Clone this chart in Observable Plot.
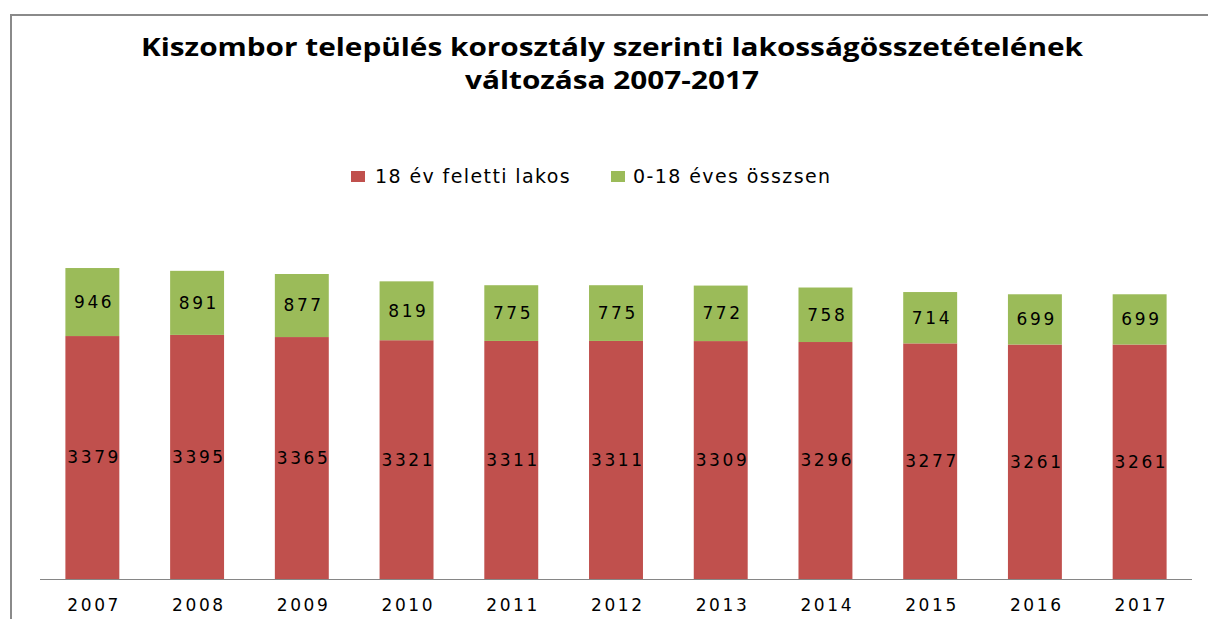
<!DOCTYPE html>
<html><head><meta charset="utf-8">
<script src="https://cdn.jsdelivr.net/npm/d3@7"></script>
<script src="https://cdn.jsdelivr.net/npm/@observablehq/plot@0.6"></script>
<style>
body{margin:0;width:1208px;height:619px;overflow:hidden;background:#fff;position:relative;font-family:"DejaVu Sans",sans-serif}
#frame{position:absolute;left:10px;top:14px;width:1400px;height:800px;border:2.5px solid #8a8a8a;box-sizing:border-box}
#title{position:absolute;left:10px;width:1204px;top:30px;text-align:center;font-family:"Open Sans",sans-serif;font-weight:700;font-size:25px;line-height:33px;color:#000;transform:scaleX(1.19);transform-origin:602px 0}
.lg{position:absolute;font-size:19px;line-height:19px;letter-spacing:1.4px;color:#000;white-space:nowrap}
.sw{position:absolute;width:14px;height:11px}
#chart{position:absolute;left:0;top:0}
#chart svg text{letter-spacing:2.6px}
</style></head>
<body>
<div id="frame"></div>
<div id="title">Kiszombor település korosztály szerinti lakosságösszetételének<br>változása 2007-2017</div>
<div id="legend"></div>
<div id="chart"></div>
<script>
const years = ["2007","2008","2009","2010","2011","2012","2013","2014","2015","2016","2017"];
const seriesNames = ["18 év feletti lakos", "0-18 éves összsen"];
const adults = [3379, 3395, 3365, 3321, 3311, 3311, 3309, 3296, 3277, 3261, 3261];
const children = [946, 891, 877, 819, 775, 775, 772, 758, 714, 699, 699];
const colors = ["#C0504D", "#9BBB59"];

const data = [];
years.forEach((y, i) => {
  data.push({year: y, series: seriesNames[0], value: adults[i]});
  data.push({year: y, series: seriesNames[1], value: children[i]});
});

// legend
const legend = document.getElementById("legend");
const legendPos = [{sq: 351, tx: 375}, {sq: 611, tx: 633}];
seriesNames.forEach((s, i) => {
  const sw = document.createElement("div");
  sw.className = "sw";
  sw.style.left = legendPos[i].sq + "px";
  sw.style.top = "171px";
  sw.style.background = colors[i];
  legend.appendChild(sw);
  const t = document.createElement("div");
  t.className = "lg";
  t.style.left = legendPos[i].tx + "px";
  t.style.top = "167px";
  t.textContent = s;
  legend.appendChild(t);
});

const plot = Plot.plot({
  width: 1208,
  height: 619,
  marginLeft: 40,
  marginRight: 16,
  marginTop: 219.5,
  marginBottom: 40,
  style: {fontFamily: "DejaVu Sans, sans-serif", background: "transparent"},
  x: {domain: years, paddingInner: 0.485, paddingOuter: 0.2425, round: false, label: null},
  y: {domain: [0, 5000], axis: null},
  color: {domain: seriesNames, range: colors},
  marks: [
    Plot.barY(data, Plot.stackY({x: "year", y: "value", fill: "series", z: "series"})),
    Plot.text(data, Plot.stackY({x: "year", y: "value", z: "series", text: d => String(d.value), fontSize: 17, fill: "#000", dx: 1.3})),
    Plot.ruleY([0], {stroke: "#868686", strokeWidth: 1.2}),
    Plot.axisX({tickSize: 0, tickPadding: 19, fontSize: 17, color: "#000", label: null, dx: 1.3})
  ]
});
document.getElementById("chart").appendChild(plot);
</script>
</body></html>
